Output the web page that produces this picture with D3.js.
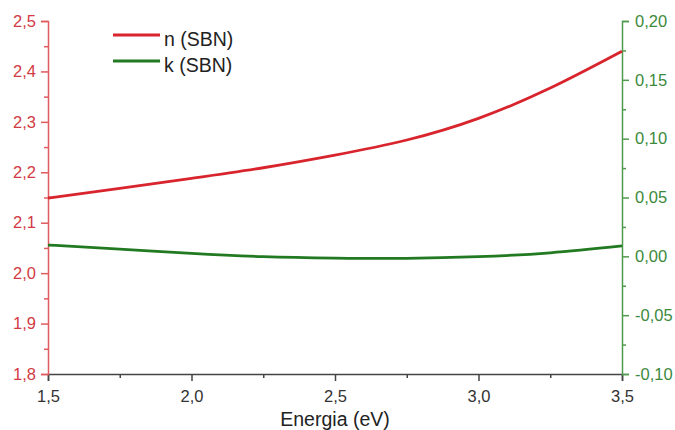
<!DOCTYPE html>
<html><head><meta charset="utf-8">
<script src="https://cdn.jsdelivr.net/npm/d3@7"></script>
<style>body{margin:0;background:#fff}svg{display:block}text{font-family:"Liberation Sans",Arial,sans-serif}</style>
</head><body>
<script>
const energy = [1.5, 1.75, 2.0, 2.25, 2.5, 2.75, 3.0, 3.25, 3.5];
const nSBN = [2.149, 2.168, 2.188, 2.209, 2.234, 2.264, 2.307, 2.367, 2.440];
const kSBN = [0.0096, 0.0062, 0.0025, -0.0003, -0.0015, -0.0017, -0.0003, 0.0030, 0.0088];
const xTicks = [1.5, 2.0, 2.5, 3.0, 3.5];
const leftTicks = [1.8, 1.9, 2.0, 2.1, 2.2, 2.3, 2.4, 2.5];
const rightTicks = [-0.10, -0.05, 0.00, 0.05, 0.10, 0.15, 0.20];
const seriesNames = ["n (SBN)", "k (SBN)"];

const W = 675, H = 430;
const m = {left: 48, right: 53, top: 21, bottom: 56};
const svg = d3.select("body").append("svg").attr("width", W).attr("height", H);
const x = d3.scaleLinear().domain([1.5, 3.5]).range([m.left, W - m.right]);
const yL = d3.scaleLinear().domain([1.8, 2.5]).range([H - m.bottom, m.top]);
const yR = d3.scaleLinear().domain([-0.10, 0.20]).range([H - m.bottom, m.top]);

const red = "#d8242c", green = "#217a21";
const redAxis = "#e05a5e", greenAxis = "#4f9a4f";
const comma = v => d3.format(".1f")(v).replace(".", ",");
const comma2 = v => d3.format(".2f")(v).replace(".", ",").replace("−", "-");

function styleAxis(g, col, txtCol) {
  g.selectAll("path,line").attr("stroke", col).attr("stroke-width", 1.5);
  g.selectAll("text").attr("fill", txtCol).attr("font-size", 16.5);
}
const minorX = d3.range(1.75, 3.5, 0.5);
const minorL = d3.range(1.85, 2.5, 0.1);
const minorR = d3.range(-0.075, 0.2, 0.05);

const gx = svg.append("g").attr("transform", `translate(0,${H - m.bottom})`)
  .call(d3.axisBottom(x).tickValues(xTicks).tickFormat(comma).tickSizeOuter(0).tickSize(7).tickPadding(9));
styleAxis(gx, "#444", "#333");
svg.append("g").attr("transform", `translate(0,${H - m.bottom})`)
  .call(d3.axisBottom(x).tickValues(minorX).tickFormat("").tickSizeOuter(0).tickSize(4))
  .call(g => { g.select(".domain").remove(); g.selectAll("line").attr("stroke", "#444").attr("stroke-width", 1.5); });

const gl = svg.append("g").attr("transform", `translate(${m.left},0)`)
  .call(d3.axisLeft(yL).tickValues(leftTicks).tickFormat(comma).tickSizeOuter(0).tickSize(7).tickPadding(5));
styleAxis(gl, redAxis, "#d23a44");
svg.append("g").attr("transform", `translate(${m.left},0)`)
  .call(d3.axisLeft(yL).tickValues(minorL).tickFormat("").tickSizeOuter(0).tickSize(4))
  .call(g => { g.select(".domain").remove(); g.selectAll("line").attr("stroke", redAxis).attr("stroke-width", 1.5); });

const gr = svg.append("g").attr("transform", `translate(${W - m.right},0)`)
  .call(d3.axisRight(yR).tickValues(rightTicks).tickFormat(comma2).tickSizeOuter(0).tickSize(7).tickPadding(6));
styleAxis(gr, greenAxis, "#3c8a3c");
svg.append("g").attr("transform", `translate(${W - m.right},0)`)
  .call(d3.axisRight(yR).tickValues(minorR).tickFormat("").tickSizeOuter(0).tickSize(4))
  .call(g => { g.select(".domain").remove(); g.selectAll("line").attr("stroke", greenAxis).attr("stroke-width", 1.5); });

svg.append("text").attr("x", (m.left + W - m.right) / 2).attr("y", 426)
  .attr("text-anchor", "middle").attr("font-size", 19.5).attr("fill", "#222").text("Energia (eV)");

const lineN = d3.line().x((d, i) => x(energy[i])).y(d => yL(d)).curve(d3.curveNatural);
const lineK = d3.line().x((d, i) => x(energy[i])).y(d => yR(d)).curve(d3.curveNatural);
svg.append("path").datum(kSBN).attr("d", lineK).attr("fill", "none").attr("stroke", green).attr("stroke-width", 2.8);
svg.append("path").datum(nSBN).attr("d", lineN).attr("fill", "none").attr("stroke", red).attr("stroke-width", 2.8);

const leg = svg.append("g");
[red, green].forEach((c, i) => {
  const yy = 35 + i * 26;
  leg.append("line").attr("x1", 113).attr("x2", 160).attr("y1", yy).attr("y2", yy).attr("stroke", c).attr("stroke-width", 2.8);
  leg.append("text").attr("x", 164).attr("y", yy + 11).attr("font-size", 19.5).attr("fill", "#222").text(seriesNames[i]);
});
</script>
</body></html>
